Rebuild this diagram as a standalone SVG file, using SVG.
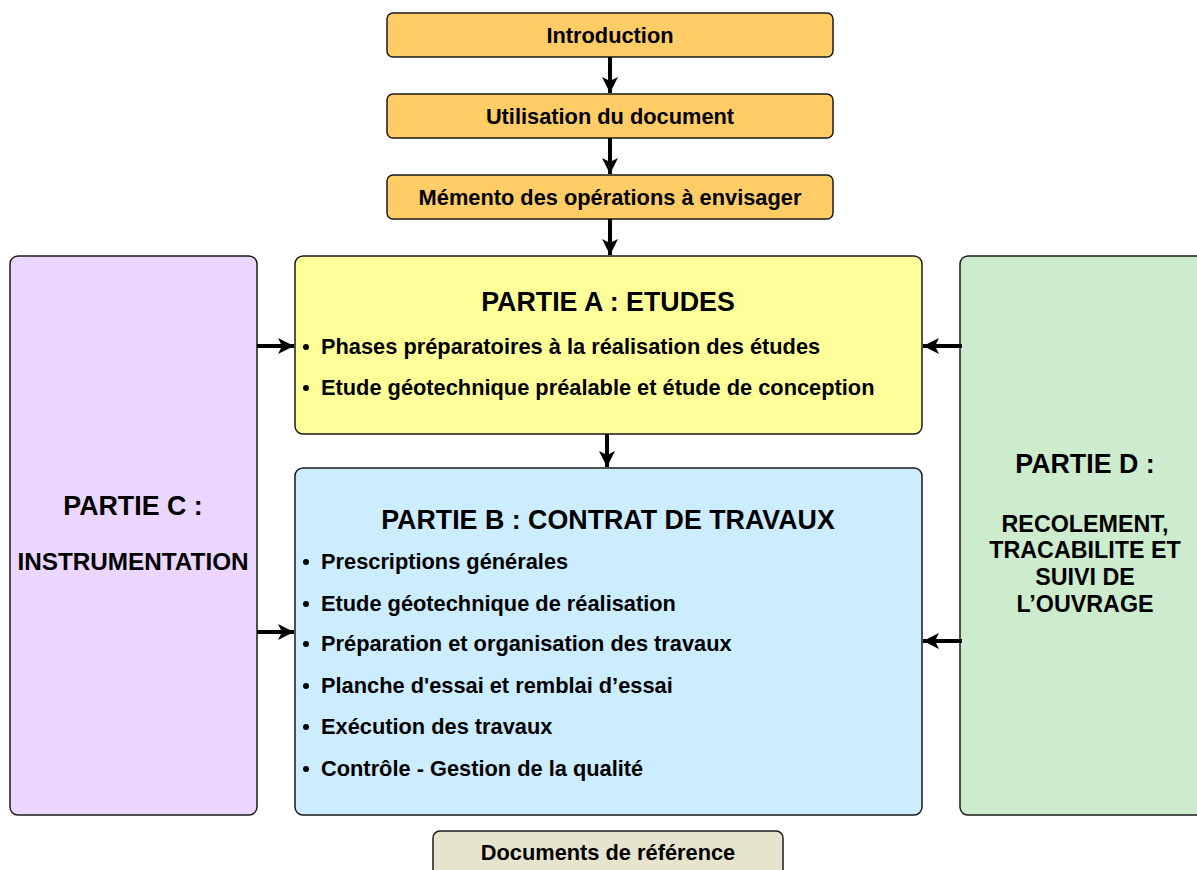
<svg xmlns="http://www.w3.org/2000/svg" width="1197" height="870" viewBox="0 0 1197 870">
<style>
.box{stroke:#1a1a1a;stroke-width:1.5}
.t{font-family:"Liberation Sans",Arial,sans-serif;font-weight:bold;fill:#000}
.s{font-size:21.8px}
.h{font-size:26.8px}
.m{font-size:24.3px}
.d{font-size:23.3px}
.c{text-anchor:middle}
.ln{stroke:#000;stroke-width:4;fill:none}
</style>
<defs>
<marker id="ah" viewBox="0 0 10 10" refX="10" refY="5" markerWidth="4" markerHeight="4" orient="auto" markerUnits="strokeWidth">
<path d="M0,0 L10,5 L0,10 L2.5,5 z" fill="#000"/>
</marker>
</defs>
<rect width="1197" height="870" fill="#fff"/>
<g id="intro"><rect class="box" x="387" y="13" width="446" height="44" rx="6" fill="#FFCC66"/><text class="t s c" x="610" y="43">Introduction</text></g>
<g id="utilisation"><rect class="box" x="387" y="94" width="446" height="44" rx="6" fill="#FFCC66"/><text class="t s c" x="610" y="124">Utilisation du document</text></g>
<g id="memento"><rect class="box" x="387" y="175" width="446" height="44" rx="6" fill="#FFCC66"/><text class="t s c" x="610" y="205">Mémento des opérations à envisager</text></g>
<g id="partieC"><rect class="box" x="10" y="256" width="247" height="559" rx="8" fill="#EAD6FF"/>
<text class="t h c" x="133" y="515">PARTIE C :</text>
<text class="t m c" x="133" y="570">INSTRUMENTATION</text></g>
<g id="partieD"><rect class="box" x="960" y="256" width="250" height="559" rx="8" fill="#CDECCE"/>
<text class="t h c" x="1085" y="473">PARTIE D :</text>
<text class="t d c" x="1085" y="532">RECOLEMENT,</text>
<text class="t d c" x="1085" y="558">TRACABILITE ET</text>
<text class="t d c" x="1085" y="585">SUIVI DE</text>
<text class="t d c" x="1085" y="612">L’OUVRAGE</text></g>
<g id="partieA"><rect class="box" x="295" y="256" width="627" height="178" rx="8" fill="#FFFF99"/>
<text class="t h c" x="608" y="311">PARTIE A : ETUDES</text>
<circle cx="306" cy="347" r="3" fill="#000"/><text class="t s" x="321" y="354">Phases préparatoires à la réalisation des études</text>
<circle cx="306" cy="388" r="3" fill="#000"/><text class="t s" x="321" y="395">Etude géotechnique préalable et étude de conception</text></g>
<g id="partieB"><rect class="box" x="295" y="468" width="627" height="347" rx="8" fill="#CCECFF"/>
<text class="t h c" x="608" y="529">PARTIE B : CONTRAT DE TRAVAUX</text>
<circle cx="306" cy="562" r="3" fill="#000"/><text class="t s" x="321" y="569">Prescriptions générales</text>
<circle cx="306" cy="604" r="3" fill="#000"/><text class="t s" x="321" y="611">Etude géotechnique de réalisation</text>
<circle cx="306" cy="644" r="3" fill="#000"/><text class="t s" x="321" y="651">Préparation et organisation des travaux</text>
<circle cx="306" cy="686" r="3" fill="#000"/><text class="t s" x="321" y="693">Planche d'essai et remblai d’essai</text>
<circle cx="306" cy="727" r="3" fill="#000"/><text class="t s" x="321" y="734">Exécution des travaux</text>
<circle cx="306" cy="769" r="3" fill="#000"/><text class="t s" x="321" y="776">Contrôle - Gestion de la qualité</text></g>
<g id="docs"><rect class="box" x="433" y="831" width="350" height="60" rx="7" fill="#E6E4CC"/><text class="t s c" x="608" y="860">Documents de référence</text></g>
<g id="connectors">
<line class="ln" x1="610" y1="57" x2="610" y2="93" marker-end="url(#ah)"/>
<line class="ln" x1="610" y1="138" x2="610" y2="174" marker-end="url(#ah)"/>
<line class="ln" x1="610" y1="219" x2="610" y2="255" marker-end="url(#ah)"/>
<line class="ln" x1="607" y1="434" x2="607" y2="467" marker-end="url(#ah)"/>
<line class="ln" x1="257" y1="346" x2="294" y2="346" marker-end="url(#ah)"/>
<line class="ln" x1="257" y1="632" x2="294" y2="632" marker-end="url(#ah)"/>
<line class="ln" x1="962" y1="346" x2="923" y2="346" marker-end="url(#ah)"/>
<line class="ln" x1="962" y1="641" x2="923" y2="641" marker-end="url(#ah)"/>
</g>
</svg>
